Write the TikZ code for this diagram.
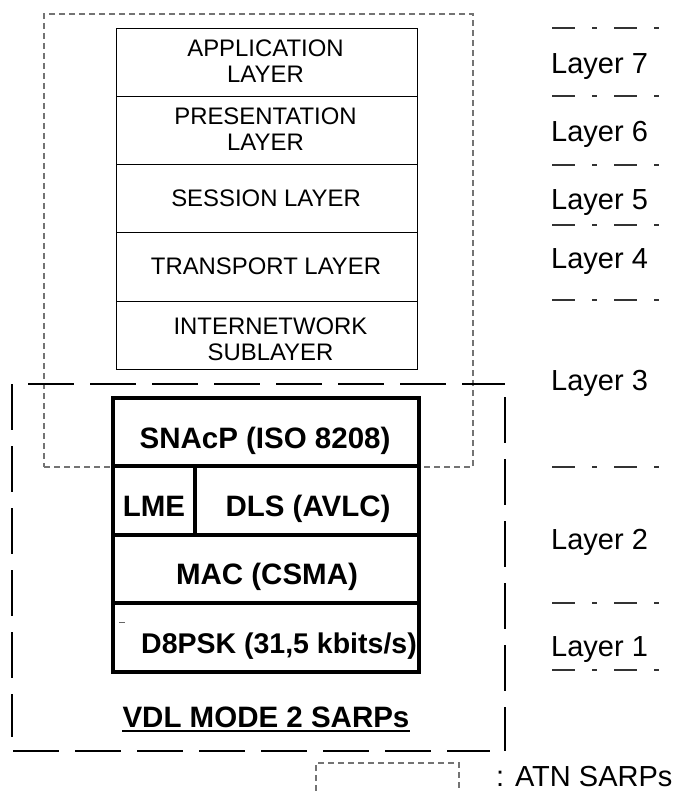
\documentclass[tikz,border=0pt]{standalone}
\usepackage{fontspec}
\setmainfont{Liberation Sans}
\begin{document}
\begin{tikzpicture}[x=1pt,y=-1pt,
  upbox/.style={draw=black, line width=1pt, minimum width=301pt, minimum height=68pt, inner sep=0pt, outer sep=0pt, anchor=north west},
  lowbox/.style={draw=black, line width=3.5pt, inner sep=0pt, outer sep=0pt, anchor=north west},
  uptxt/.style={font=\fontsize{23.9}{26}\selectfont, anchor=base, inner sep=0pt},
  boldtxt/.style={font=\fontsize{29.5}{30}\selectfont\bfseries, anchor=base, inner sep=0pt},
  laytxt/.style={font=\fontsize{29}{30}\selectfont, anchor=base west, inner sep=0pt},
  atnline/.style={draw=black!55, line width=1.2pt, dash pattern=on 6pt off 4pt},
  vdlline/.style={draw=black, line width=1.1pt, dash pattern=on 46pt off 16pt},
  sepline/.style={draw=black!80, line width=1.1pt, dash pattern=on 23pt off 17pt on 5pt off 17pt}
]
\useasboundingbox (0,0) rectangle (674,791);

% ATN SARPs dashed region
\node[atnline, minimum width=429pt, minimum height=453pt, inner sep=0pt, outer sep=0pt, anchor=north west] (atn) at (44,14) {};

% upper stack
\node[upbox] (app) at (116,29) {};
\node[upbox] (pres) at (116,97) {};
\node[upbox] (sess) at (116,165) {};
\node[upbox] (trans) at (116,233) {};
\node[upbox] (inet) at (116,301) {};

\node[uptxt] (tapp1) at (265.5,57) {APPLICATION};
\node[uptxt] (tapp2) at (265.5,83) {LAYER};
\node[uptxt] (tpres1) at (265.5,125) {PRESENTATION};
\node[uptxt] (tpres2) at (265.5,151) {LAYER};
\node[uptxt] (tsess) at (266,207) {SESSION LAYER};
\node[uptxt] (ttrans) at (266,274) {TRANSPORT LAYER};
\node[uptxt] (tinet1) at (270.5,334) {INTERNETWORK};
\node[uptxt] (tinet2) at (270.5,360) {SUBLAYER};

% VDL mode 2 dashed region
\draw[vdlline] (28,384) -- (505,384);
\draw[vdlline] (505,397) -- (505,751);
\draw[vdlline] (13,751) -- (490,751);
\draw[vdlline] (12,384) -- (12,737);

% lower stack
\node[lowbox, minimum width=306pt, minimum height=68pt] (snacp) at (113,398) {};
\node[lowbox, minimum width=82pt, minimum height=69pt] (lme) at (113,466) {};
\node[lowbox, minimum width=224pt, minimum height=69pt] (dls) at (195,466) {};
\node[lowbox, minimum width=306pt, minimum height=68pt] (mac) at (113,535) {};
\node[lowbox, minimum width=306pt, minimum height=69pt] (phy) at (113,603) {};

\node[boldtxt] (tsnacp) at (265,448) {SNAcP (ISO 8208)};
\node[boldtxt] (tlme) at (154,516) {LME};
\node[boldtxt] (tdls) at (308,516) {DLS (AVLC)};
\node[boldtxt] (tmac) at (267,584) {MAC (CSMA)};
\node[boldtxt, font=\fontsize{28.5}{30}\selectfont\bfseries] (tphy) at (279,653) {D8PSK (31,5 kbits/s)};
\draw[black!60, line width=0.8pt] (119,622) -- (125,622);

\node[boldtxt] (vdl) at (266,727) {VDL MODE 2 SARPs};
\draw[line width=2.5pt] ([yshift=-4pt]vdl.base west) -- ([yshift=-4pt]vdl.base east);

% layer separators
\foreach \yy in {28,96,165,225,300,467,603,670}
  \draw[sepline] (552,\yy) -- (659,\yy);

\node[laytxt] (l7) at (551,73.5) {Layer 7};
\node[laytxt] (l6) at (551,141.5) {Layer 6};
\node[laytxt] (l5) at (551,209.5) {Layer 5};
\node[laytxt] (l4) at (551,268.5) {Layer 4};
\node[laytxt] (l3) at (551,390.5) {Layer 3};
\node[laytxt] (l2) at (551,549.5) {Layer 2};
\node[laytxt] (l1) at (551,656) {Layer 1};

% legend
\draw[atnline] (316,791) -- (316,763) -- (459,763) -- (459,791);
\node[laytxt] (legend) at (496,786) {: ATN SARPs};
\end{tikzpicture}
\end{document}
